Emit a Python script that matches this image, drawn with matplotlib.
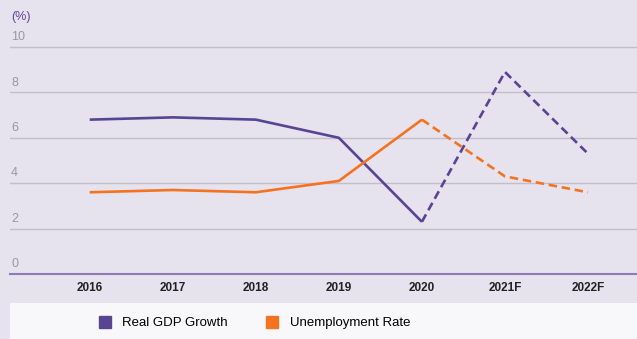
import matplotlib.pyplot as plt
from matplotlib.lines import Line2D
from matplotlib.patches import Rectangle

plt.rcParams['font.family'] = ['Liberation Sans', 'DejaVu Sans']

years = ['2016', '2017', '2018', '2019', '2020', '2021F', '2022F']
gdp_growth = [6.8, 6.9, 6.8, 6.0, 2.3, 8.9, 5.3]
unemployment = [3.6, 3.7, 3.6, 4.1, 6.8, 4.3, 3.6]
n_actual = 5  # 2016-2020 are actuals, the rest are forecasts
y_ticks = [0, 2, 4, 6, 8, 10]

purple = '#574594'
orange = '#f47321'
bg = '#e6e2ee'

fig = plt.figure(figsize=(6.37, 3.39), dpi=100, facecolor=bg)
ax = fig.add_axes([10 / 637, 1 - 274 / 339, 627 / 637, 244 / 339])
ax.set_facecolor(bg)

x = list(range(len(years)))
for vals, color in [(gdp_growth, purple), (unemployment, orange)]:
    ax.plot(x[:n_actual], vals[:n_actual], color=color, lw=1.9, solid_capstyle='butt', zorder=3)
    ax.plot(x[n_actual - 1:], vals[n_actual - 1:], color=color, lw=1.9,
            ls=(0, (3.2, 1.8)), dash_capstyle='butt', zorder=3)

ax.set_xlim(-0.96, 6.59)
ax.set_ylim(0, 244 / 22.7)

for t in y_ticks:
    if t > 0:
        ax.axhline(t, color='#c3bfca', lw=1, zorder=1)
    ax.text(1 / 627, t + 0.17, str(t), transform=ax.get_yaxis_transform(),
            color='#9a98a0', fontsize=9, va='bottom', ha='left')

ax.set_yticks([])
ax.set_xticks(x)
ax.set_xticklabels(years, fontsize=8.5, color='#222222', fontweight='bold')
ax.tick_params(axis='x', length=0, pad=6)
for side in ['top', 'right', 'left']:
    ax.spines[side].set_visible(False)
ax.spines['bottom'].set_color('#8a7db5')
ax.spines['bottom'].set_linewidth(1.5)

fig.text(11 / 637, 1 - 17 / 339, '(%)', color='#5b4a9a', fontsize=9, va='center', ha='left')

# legend strip along the bottom
fig.add_artist(Rectangle((10 / 637, 0), 627 / 637, 36 / 339, transform=fig.transFigure,
                         facecolor='#f8f8fa', edgecolor='none'))
handles = [Line2D([], [], marker='s', ls='', color=purple, markersize=8.5),
           Line2D([], [], marker='s', ls='', color=orange, markersize=8.5)]
fig.legend(handles, ['Real GDP Growth', 'Unemployment Rate'], ncol=2, frameon=False,
           loc='center left', bbox_to_anchor=(99 / 637, 1 - 323 / 339), fontsize=9.5,
           borderaxespad=0, borderpad=0, handletextpad=0.9, columnspacing=2.95,
           handlelength=0.85)

fig.savefig('out.png', dpi=100, facecolor=bg)
